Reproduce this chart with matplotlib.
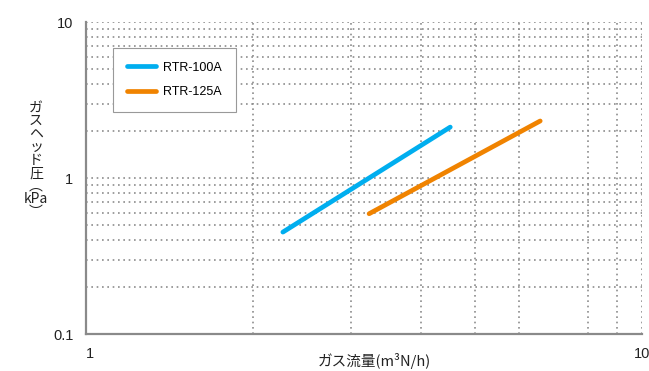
import matplotlib
matplotlib.use("Agg")
import matplotlib.pyplot as plt
from matplotlib.ticker import FixedLocator, NullFormatter

plt.rcParams['font.family'] = ['Liberation Sans', 'Noto Sans CJK JP', 'DejaVu Sans']

# data (log-log, straight lines)
series_names = ["RTR-100A", "RTR-125A"]
flow_100 = [2.26, 4.52]
head_100 = [0.45, 2.12]
flow_125 = [3.23, 6.56]
head_125 = [0.59, 2.32]
colors = ["#00AEEF", "#F08300"]

x_ticks = [1, 10]
x_labels = ["1", "10"]
y_ticks = [0.1, 1, 10]
y_labels = ["0.1", "1", "10"]
x_grid = [2, 3, 4, 5, 6, 8, 9, 10]   # the reference has no line at 7
y_grid = [0.2, 0.3, 0.4, 0.5, 0.6, 0.7, 0.8, 0.9, 1,
          2, 3, 4, 5, 6, 7, 8, 9, 10]

fig = plt.figure(figsize=(6.49, 3.71), dpi=100)
ax = fig.add_axes([86 / 649, 37 / 371, 556 / 649, 312 / 371])

ax.set_xscale('log')
ax.set_yscale('log')
ax.set_xlim(1, 10)
ax.set_ylim(0.1, 10)

# dotted grid
grid_kw = dict(color='#8c8c8c', linewidth=1.2, linestyle=(0, (1, 2.2)), zorder=1)
for gx in x_grid:
    ax.axvline(gx, **grid_kw)
for gy in y_grid:
    ax.axhline(gy, **grid_kw)

ax.plot(flow_100, head_100, color=colors[0], linewidth=3.4,
        solid_capstyle='round', label=series_names[0], zorder=3)
ax.plot(flow_125, head_125, color=colors[1], linewidth=3.4,
        solid_capstyle='round', label=series_names[1], zorder=3)

ax.xaxis.set_major_locator(FixedLocator(x_ticks))
ax.yaxis.set_major_locator(FixedLocator(y_ticks))
ax.xaxis.set_minor_locator(FixedLocator([]))
ax.yaxis.set_minor_locator(FixedLocator([]))
ax.xaxis.set_minor_formatter(NullFormatter())
ax.yaxis.set_minor_formatter(NullFormatter())
ax.set_xticklabels(x_labels)
ax.set_yticklabels(y_labels)
ax.tick_params(axis='both', length=0, labelsize=10.5, colors='#222222')
ax.tick_params(axis='x', pad=9)
ax.tick_params(axis='y', pad=9)
for lbl in ax.get_xticklabels():
    lbl.set_horizontalalignment('left' if lbl.get_text() == "1" else 'center')

for s in ['top', 'right']:
    ax.spines[s].set_visible(False)
for s in ['left', 'bottom']:
    ax.spines[s].set_color('#8a8a8a')
    ax.spines[s].set_linewidth(1.6)

leg = ax.legend(loc='upper left', bbox_to_anchor=(0.049, 0.917),
                borderaxespad=0, fontsize=9, fancybox=False, framealpha=1,
                edgecolor='#999999', handlelength=2.3, handletextpad=0.6,
                borderpad=1.1, labelspacing=1.0)
leg.get_frame().set_linewidth(0.8)

# axis titles
fig.text(374 / 649, 1 - 361 / 371, "ガス流量(m³N/h)", ha='center', va='center',
         fontsize=10.5, family=['Noto Sans CJK JP', 'DejaVu Sans'], color='#222222')
fig.text(36 / 649, 1 - 160 / 371, "ガ\nス\nヘ\nッ\nド\n圧\n︵\nkPa\n︶",
         ha='center', va='center', multialignment='center', fontsize=10,
         linespacing=0.92, family=['Noto Sans CJK JP', 'DejaVu Sans'],
         color='#222222')

fig.savefig("out.png", dpi=100)
